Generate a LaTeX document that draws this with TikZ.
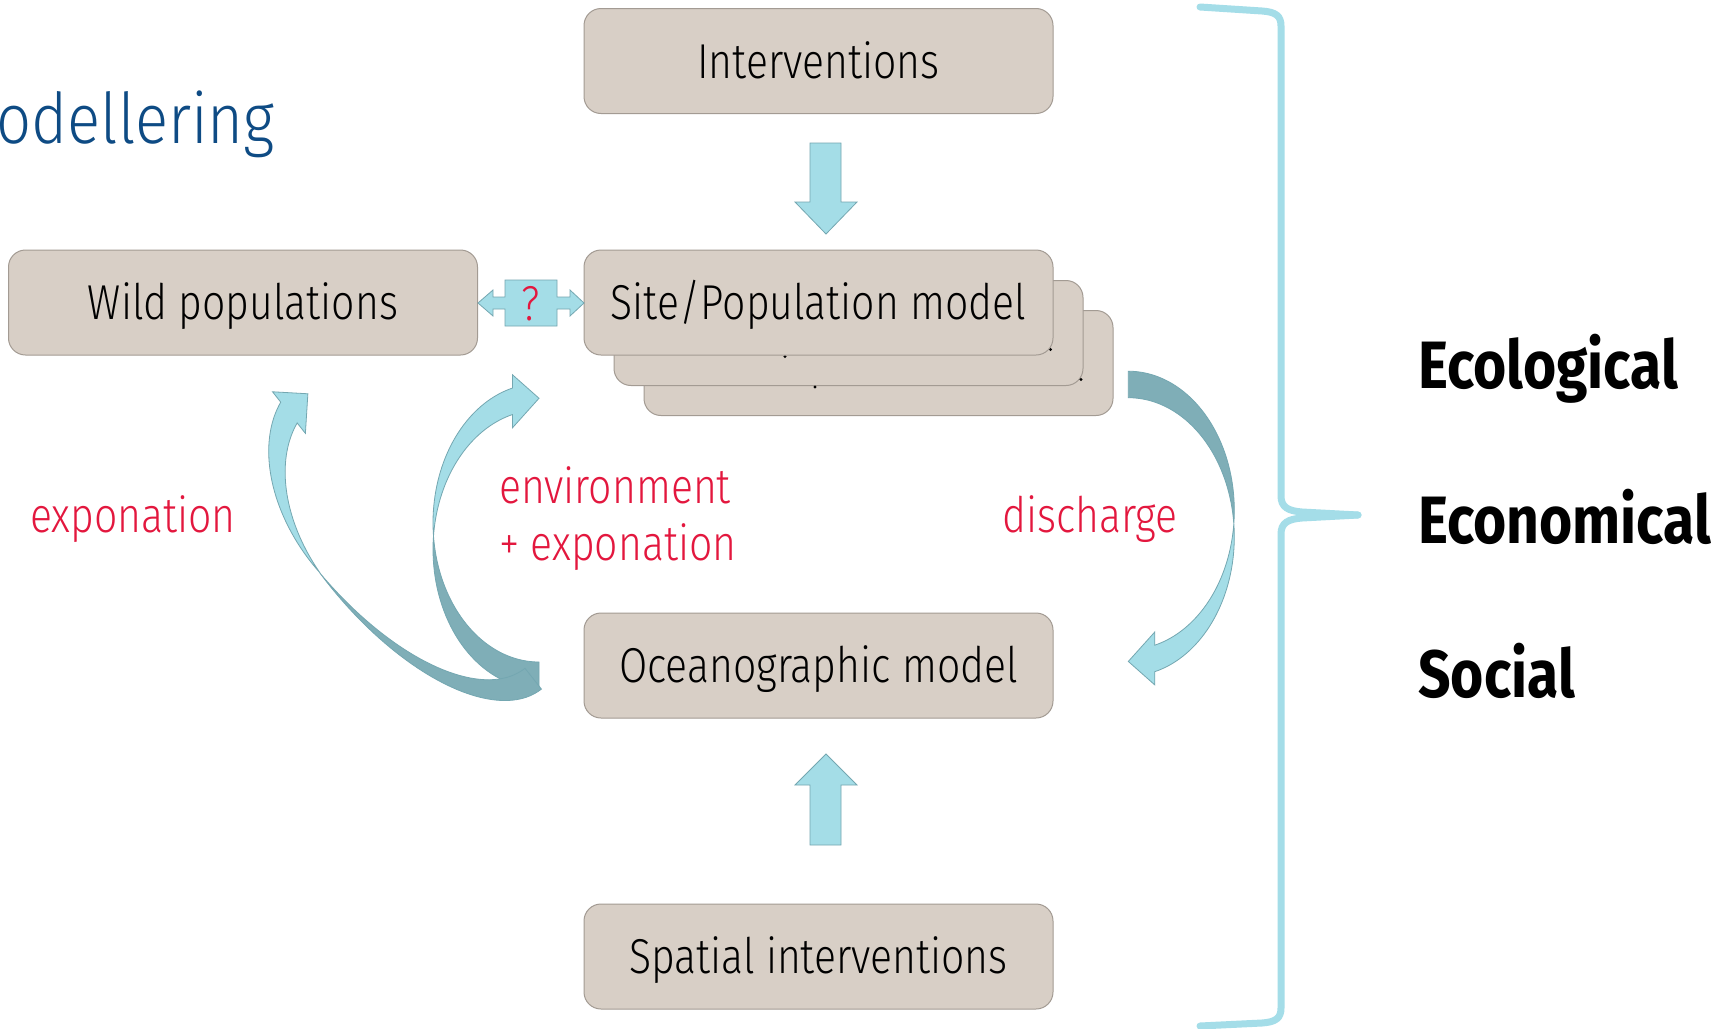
\documentclass[tikz,border=0pt]{standalone}
\usepackage{fontspec}
\setmainfont{Fira Sans Light}[FakeStretch=0.835]
\newfontfamily\boldfont{Fira Sans Bold}[FakeStretch=0.85]
\newfontfamily\titlefont{Fira Sans Light}[FakeStretch=0.88]
\definecolor{boxfill}{HTML}{D8CFC6}
\definecolor{boxline}{HTML}{A39B93}
\definecolor{arlight}{HTML}{A4DDE7}
\definecolor{ardark}{HTML}{7FAEB7}
\definecolor{arline}{HTML}{74A7B1}
\definecolor{labred}{HTML}{E3173E}
\definecolor{titleblue}{HTML}{0E4B84}
\definecolor{bracecol}{HTML}{A4DDE8}
\tikzset{
  box/.style={draw=boxline, fill=boxfill, rounded corners=17pt, line width=1pt,
    minimum width=469pt, minimum height=105pt, inner sep=0pt,
    text height=34pt, text depth=0pt, font=\fontsize{49}{58}\selectfont},
  redlab/.style={text=labred, inner sep=0pt, font=\fontsize{49}{58}\selectfont},
  sidelab/.style={inner sep=0pt, anchor=base west, font=\boldfont\fontsize{67}{80}\selectfont},
  blockl/.style={fill=arlight, draw=arline, line width=0.8pt, line join=miter},
  blockd/.style={fill=ardark, draw=arline, line width=0.8pt, line join=miter},
  brace/.style={draw=bracecol, line width=7pt, line cap=round, line join=round}
}
% curved block arrow in local coordinates: tail at u=0 (v from 0 to 26.5),
% head pointing to +u, bulging to -u.  #1 = front radius, #2 = back radius, #3 = width
\newcommand\curvedarr[3]{%
  \draw[blockd] plot[domain=90:180+asin(13.25/#2), samples=40, variable=\t]
      ({#3*cos(\t)},{-#2+26.5+#2*sin(\t)})
    -- plot[domain=180-asin(13.25/#2):90, samples=40, variable=\t]
      ({#3*cos(\t)},{-#2+#2*sin(\t)}) -- cycle;
  \draw[blockl] plot[domain=180+asin(13.25/#1):360-acos(-26.5/#3), samples=40, variable=\t]
      ({#3*cos(\t)},{-#2+26.5+#1*sin(\t)})
    -- (-26.5,{-#2+26.5-#1*sqrt(1-(26.5/#3)^2)+13.25})
    -- (0,{-#2+13.25-#1*sqrt(1-(26.5/#3)^2)-3})
    -- (-26.5,{-#2-#1*sqrt(1-(26.5/#3)^2)-13.25})
    -- plot[domain=360-acos(-26.5/#3):180-asin(13.25/#1), samples=40, variable=\t]
      ({#3*cos(\t)},{-#2+#1*sin(\t)}) -- cycle;
}
\begin{document}
\begin{tikzpicture}[x=1pt,y=-1pt]
\useasboundingbox[fill=white] (0,0) rectangle (1729,1028);

% title (its first letter lies beyond the left edge, as in the slide)
\node[anchor=base east, inner sep=0pt, text=titleblue, font=\titlefont\fontsize{70}{84}\selectfont] (title) at (275,143) {Modellering};

% stacked boxes
\node[box] (stack3) at (878.5,363) {};
\node[box] (stack2) at (848.5,333) {};
\fill (815,387) circle (1.6);
\fill (1081,379.5) circle (1.6);
\fill (785,356.5) circle (1.6);
\fill (1050.5,349.5) circle (1.6);

% boxes
\node[box] (int) at (818.5,61) {Interventions};
\node[box] (site) at (818.5,302.5) {Site/Population model};
\node[box] (wild) at (243,302.5) {Wild populations};
\node[box] (ocean) at (818.5,665.5) {Oceanographic model};
\node[box] (spatial) at (818.5,956.5) {Spatial interventions};

% straight block arrows
\draw[blockl] (810,143) -- (841,143) -- (841,202) -- (857,202) -- (826,234) -- (795,202) -- (810,202) -- cycle;
\draw[blockl] (810,845) -- (841,845) -- (841,785) -- (857,785) -- (826,754) -- (795,785) -- (810,785) -- cycle;

% double arrow with question mark
\draw[blockl] (478,303) -- (493,290) -- (493,297) -- (505,297) -- (505,280) -- (557,280) -- (557,297) -- (570,297) -- (570,290) -- (584,303) -- (570,316) -- (570,309) -- (557,309) -- (557,326) -- (505,326) -- (505,309) -- (493,309) -- (493,316) -- cycle;
\node[redlab, text height=34pt, text depth=0pt] (q) at (531,303) {?};

% environment + exponation arrow
\begin{scope}[shift={(539,662)}]
  \curvedarr{139.2}{139.2}{106}
\end{scope}
% exponation arrow
\begin{scope}[shift={(525,668.3)}, rotate=38.34]
  \curvedarr{150.3}{215.15}{102}
\end{scope}
% discharge arrow
\begin{scope}[shift={(1128.3,397.7)}, rotate=180]
  \curvedarr{139.2}{139.2}{106}
\end{scope}

% red labels
\node[redlab, anchor=base west] (lexp) at (30,532) {exponation};
\node[redlab, anchor=base west] (lenv) at (499,503) {environment};
\node[redlab, anchor=base west] (lenv2) at (499,560) {+ exponation};
\node[redlab, anchor=base east] (ldis) at (1178,532) {discharge};

% brace
\draw[brace] (1200,7) -- (1262,11) .. controls (1276,12) and (1281,16) .. (1281,26)
  -- (1281,496) .. controls (1281,507) and (1288,511) .. (1302,512) -- (1358,515);
\draw[brace] (1358,515) -- (1302,518) .. controls (1288,519) and (1281,523) .. (1281,534)
  -- (1281,1008) .. controls (1281,1018) and (1276,1022) .. (1262,1023) -- (1200,1026);

% side labels
\node[sidelab] (eco) at (1418,388) {Ecological};
\node[sidelab] (econ) at (1418,543) {Economical};
\node[sidelab] (soc) at (1418,697) {Social};
\end{tikzpicture}
\end{document}
